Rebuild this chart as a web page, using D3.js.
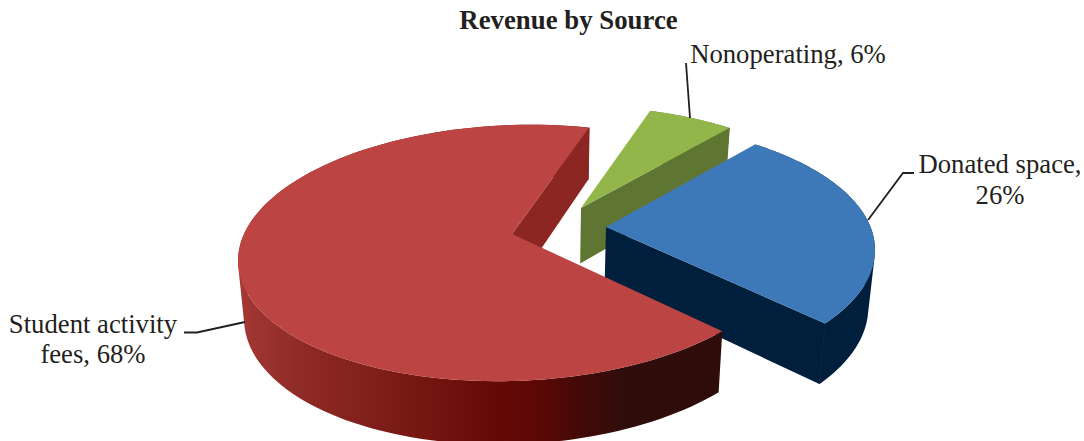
<!DOCTYPE html>
<html><head><meta charset="utf-8">
<style>html,body{margin:0;padding:0;background:#fff}svg{display:block}text{font-family:"Liberation Serif",serif;fill:#231f20}</style>
<script src="https://cdn.jsdelivr.net/npm/d3@7/dist/d3.min.js"></script>
</head><body><svg id="c" width="1084" height="441"></svg>
<script>
const categories = ["Student activity fees","Nonoperating","Donated space"];
const values = [68,6,26];
const chartTitle = "Revenue by Source";
const labelLines = [["Student activity","fees, 68%"],["Nonoperating, 6%"],["Donated space,","26%"]];

// layout, separate from the data
const RX = 276, RY = 128;
const startDeg = 131;
const geo = [
  {c:[514,253], apex:[512,234], warp:[0,0],    tilt:-0.028, top:"#bc4442", face:"#8c2623", wall:"url(#redWall)"},
  {c:[575,234], apex:[581,208], warp:[0,-3.4], tilt:0,      top:"#93b64b", face:"#5f7532", wall:"#5f7532"},
  {c:[599,250], apex:[606,227], warp:[-3,-6],  tilt:0,      top:"#3d79b9", face:"#001f3d", wall:"#001f3d"}
];
const labelPos = [
  {x:93,  ys:[333,363]},
  {x:788, ys:[63]},
  {x:1000,ys:[173,203.5]}
];
const leaders = [
  [[184,332.5],[197,332.5],[245,322]],
  [[686,63],[690,118]],
  [[914,173],[903,173],[868,220]]
];
const depth = d3.scaleLinear().domain([129,331]).range([52,61]);
const shrink = d3.scaleLinear().domain([540,840]).range([540,834]);
const drop = p => [shrink(p[0]), p[1]+depth(p[1])];

const svg = d3.select("#c");
const line = d3.line();
const grad = svg.append("defs").append("linearGradient").attr("id","redWall")
  .attr("gradientUnits","userSpaceOnUse").attr("x1",238).attr("x2",725).attr("y1",0).attr("y2",0);
[[238,"#a43835"],[300,"#8f2b27"],[400,"#7a1a15"],[500,"#640905"],[535,"#5e0806"],[580,"#430907"],[625,"#300d0b"],[725,"#2e0c0a"]]
  .forEach(s=>grad.append("stop").attr("offset",(s[0]-238)/487).attr("stop-color",s[1]));

const slices = d3.pie().sort(null).value(d=>d)
  .startAngle(startDeg*Math.PI/180).endAngle((startDeg+360)*Math.PI/180)(values);

const pts = slices.map((s,i)=>{
  const g = geo[i];
  const a0 = s.startAngle+g.warp[0]*Math.PI/180, a1 = s.endAngle+g.warp[1]*Math.PI/180;
  return d3.range(0,121).map(k=>{
    const a = a0+(a1-a0)*k/120;
    const dx = RX*Math.sin(a);
    return [g.c[0]+dx, g.c[1]-RY*Math.cos(a)+g.tilt*dx];
  });
});

function drawSlice(i){
  const g = geo[i], arc = pts[i], n = arc.length-1;
  const G = svg.append("g").attr("class","slice").attr("data-name",categories[i]);
  // outer wall: quads with one winding merged in a single path, so no seams and full silhouette
  const quads = d3.pairs(arc).map(([p,q])=>{
    const quad = [p,q,drop(q),drop(p)];
    return line(d3.polygonArea(quad)<0 ? quad.reverse() : quad)+"Z";
  }).join("");
  G.append("path").attr("d",quads).attr("fill",g.wall).attr("fill-rule","nonzero");
  // the cut face that looks towards the viewer, with a fine edge hiding the seam against the wall
  G.append("path").attr("d",line([g.apex,arc[n],drop(arc[n]),drop(g.apex)])+"Z").attr("fill",g.face);
  G.append("path").attr("d",line([arc[n],drop(arc[n])])).attr("stroke",g.face).attr("stroke-width",1).attr("fill","none");
  G.append("path").attr("d",line([g.apex].concat(arc))+"Z").attr("fill",g.top);
}
// painter's order: back slices first
[1,2,0].forEach(drawSlice);

svg.selectAll("path.leader").data(leaders).join("path").attr("class","leader")
  .attr("d",d=>line(d)).attr("fill","none").attr("stroke","#231f20").attr("stroke-width",1.8);

svg.append("text").attr("x",568.5).attr("y",29).attr("text-anchor","middle")
  .attr("font-size",26.8).attr("font-weight","bold").text(chartTitle);
labelLines.forEach((ls,i)=>ls.forEach((t,j)=>{
  svg.append("text").attr("x",labelPos[i].x).attr("y",labelPos[i].ys[j])
    .attr("text-anchor","middle").attr("font-size",26.7).text(t);
}));
</script></body></html>
